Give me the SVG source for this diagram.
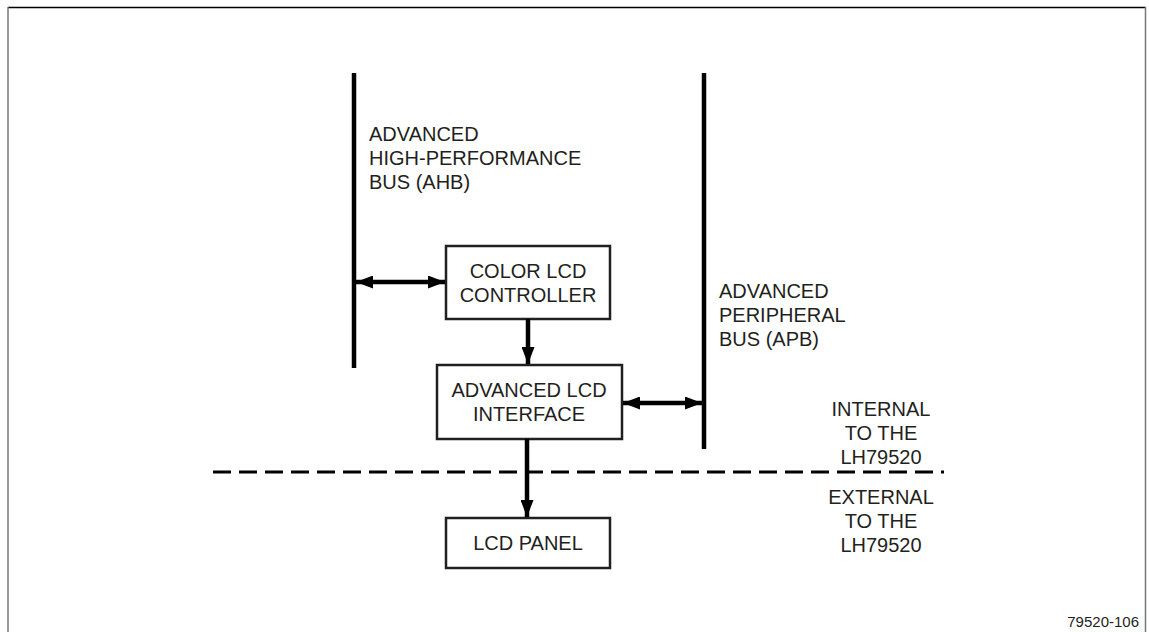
<svg xmlns="http://www.w3.org/2000/svg" width="1149" height="632" viewBox="0 0 1149 632">
<style>
text{font-family:"Liberation Sans",Arial,sans-serif;font-size:20px;fill:#231f20}
.box{fill:#fff;stroke:#231f20;stroke-width:2.5}
.bus{stroke:#000;stroke-width:4.5;fill:none}
.conn{stroke:#000;stroke-width:4.5;fill:none}
.c{text-anchor:middle}
</style>
<defs>
<marker id="ah" viewBox="0 0 17 13" refX="17" refY="6.5" markerWidth="17" markerHeight="13" markerUnits="userSpaceOnUse" orient="auto-start-reverse">
<path d="M0,0 L17,6.5 L0,13 Z" fill="#000"/>
</marker>
</defs>
<rect width="1149" height="632" fill="#fff"/>
<g id="frame">
<line x1="8" y1="7.5" x2="1146" y2="7.5" stroke="#000" stroke-width="1.5"/>
<line x1="8" y1="7" x2="8" y2="632" stroke="#777" stroke-width="1.5"/>
<line x1="1145.5" y1="7" x2="1145.5" y2="632" stroke="#777" stroke-width="1.5"/>
</g>
<g id="ahb">
<line class="bus" x1="354" y1="73" x2="354" y2="368"/>
<text x="369" y="141">ADVANCED</text>
<text x="369" y="165">HIGH-PERFORMANCE</text>
<text x="369" y="189">BUS (AHB)</text>
</g>
<g id="apb">
<line class="bus" x1="704" y1="73" x2="704" y2="449"/>
<text x="719" y="298">ADVANCED</text>
<text x="719" y="322">PERIPHERAL</text>
<text x="719" y="346">BUS (APB)</text>
</g>
<g id="clcdc">
<rect class="box" x="446" y="246" width="164" height="73"/>
<text class="c" x="528" y="278">COLOR LCD</text>
<text class="c" x="528" y="302">CONTROLLER</text>
</g>
<g id="alcdi">
<rect class="box" x="437" y="365" width="185" height="74"/>
<text class="c" x="529" y="397">ADVANCED LCD</text>
<text class="c" x="529" y="421">INTERFACE</text>
</g>
<g id="panel">
<rect class="box" x="446" y="518" width="164" height="50"/>
<text class="c" x="528" y="550">LCD PANEL</text>
</g>
<g id="boundary">
<line x1="213" y1="472" x2="944" y2="472" stroke="#000" stroke-width="3" stroke-dasharray="18,8"/>
<text class="c" x="881" y="416">INTERNAL</text>
<text class="c" x="881" y="440">TO THE</text>
<text class="c" x="881" y="464">LH79520</text>
<text class="c" x="881" y="504">EXTERNAL</text>
<text class="c" x="881" y="528">TO THE</text>
<text class="c" x="881" y="552">LH79520</text>
</g>
<g id="connectors">
<line class="conn" x1="356" y1="282" x2="445" y2="282" marker-start="url(#ah)" marker-end="url(#ah)"/>
<line class="conn" x1="528" y1="319" x2="528" y2="364" marker-end="url(#ah)"/>
<line class="conn" x1="623" y1="403" x2="702" y2="403" marker-start="url(#ah)" marker-end="url(#ah)"/>
<line class="conn" x1="527" y1="439" x2="527" y2="517" marker-end="url(#ah)"/>
</g>
<text x="1139" y="627" style="font-size:15px;text-anchor:end">79520-106</text>
</svg>
